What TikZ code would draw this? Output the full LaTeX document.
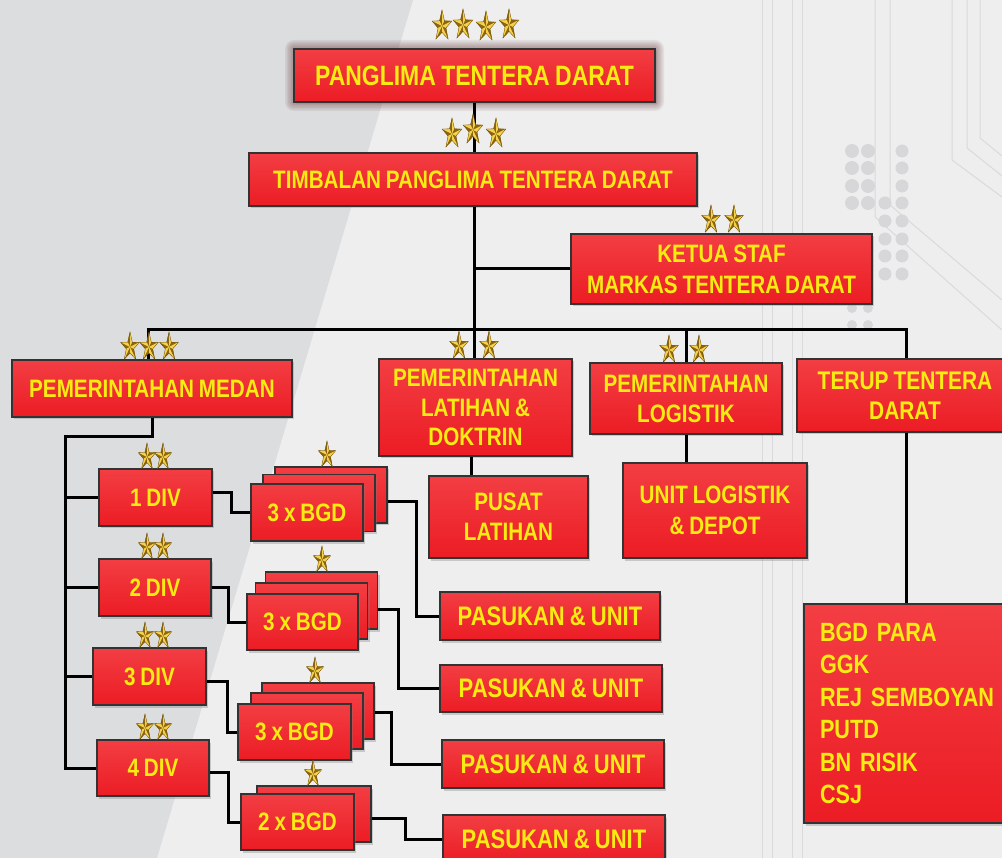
\documentclass[tikz,border=0pt]{standalone}
\usepackage{fontspec}
\newfontfamily\bxfont{Liberation Sans}[FakeStretch=0.82, WordSpace=0.85]
\usetikzlibrary{shadows,calc}
\definecolor{boxred}{HTML}{EC1C24}
\definecolor{boxredtop}{HTML}{F23E43}
\definecolor{boxtext}{HTML}{F6EC12}
\definecolor{bglight}{HTML}{EEEEEF}
\definecolor{bgdark}{HTML}{DCDDDF}
\definecolor{deco}{HTML}{DADADD}
\definecolor{dotc}{HTML}{D7D7DA}
\definecolor{goldA}{HTML}{D9A522}
\definecolor{goldB}{HTML}{8E6612}
\definecolor{goldC}{HTML}{F3D24E}
\definecolor{glowc}{HTML}{5A2424}
\pgfdeclarelayer{bg}
\pgfsetlayers{bg,main}
\tikzset{
  rbox/.style={draw=black!80, line width=1.2pt, top color=boxredtop, bottom color=boxred,
    text=boxtext, font=\bxfont\bfseries\fontsize{25.2}{30}\selectfont, align=center, inner sep=0pt,
    drop shadow={opacity=0.35, shadow xshift=2pt, shadow yshift=-2.5pt}},
  conn/.style={draw=black, line width=3pt},
  decoline/.style={draw=deco, line width=1pt},
  pics/gstar/.style={code={
    \begin{scope}[x=0.65pt, y=1pt]
      \fill[goldA] (90:#1) -- (126:0.4*#1) -- (162:#1) -- (198:0.4*#1) -- (234:#1) -- (270:0.4*#1)
        -- (306:#1) -- (342:0.4*#1) -- (18:#1) -- (54:0.4*#1) -- cycle;
      \foreach \a in {90,162,234,306,18} {
        \fill[goldB] (0,0) -- (\a:#1) -- (\a+36:0.4*#1) -- cycle;
        \fill[goldC] (0,0) -- (\a:#1) -- (\a-36:0.4*#1) -- cycle;
      }
      \draw[goldB!70!black, line width=0.3pt] (90:#1) -- (126:0.4*#1) -- (162:#1) -- (198:0.4*#1) -- (234:#1) -- (270:0.4*#1)
        -- (306:#1) -- (342:0.4*#1) -- (18:#1) -- (54:0.4*#1) -- cycle;
    \end{scope}
  }},
  pics/gstar/.default=14
}
\begin{document}
\begin{tikzpicture}[x=1pt, y=-1pt]
\useasboundingbox (0,0) rectangle (1002,858);
\begin{pgfonlayer}{bg}
  \fill[bglight] (0,0) rectangle (1002,858);
  \fill[bgdark] (0,0) -- (413,0) -- (157,858) -- (0,858) -- cycle;
  % faint circuit decoration
  \foreach \xx in {762,772,792,802} \draw[decoline] (\xx,0) -- (\xx,858);
  \draw[decoline] (875,0) -- (875,217) -- (1002,330);
  \draw[decoline] (890,0) -- (890,205) -- (1002,300);
  \draw[decoline] (952,0) -- (952,160) -- (1002,197);
  \draw[decoline] (967,0) -- (967,148) -- (1002,176);
  \draw[decoline] (980,0) -- (980,138) -- (1002,156);
  \foreach \yy in {151,168,186,203} {
    \fill[dotc] (852,\yy) circle (7);
    \fill[dotc] (868,\yy) circle (7);
  }
  \foreach \yy in {151,168,186,203,221,239,256,274} \fill[dotc] (902,\yy) circle (6.5);
  \foreach \yy in {203,221,239,256,274} \fill[dotc] (885,\yy) circle (6.5);
  \foreach \yy in {291,308,325} {
    \fill[dotc] (852,\yy) circle (5);
    \fill[dotc] (868,\yy) circle (5);
  }
  % glow of the top box
  \foreach \g in {1.5,3,...,9}
    \fill[glowc, opacity=0.08, rounded corners=\g pt] ({294-\g},{49-\g}) rectangle ({655+\g},{102+\g});
\end{pgfonlayer}

% ---- boxes ----
\node[rbox, minimum width=361, minimum height=53, font=\bxfont\bfseries\fontsize{28}{30}\selectfont] (ptd) at (474.5,75.5) {PANGLIMA TENTERA DARAT};
\node[rbox, minimum width=448, minimum height=53] (tptd) at (473,179.5) {TIMBALAN PANGLIMA TENTERA DARAT};
\node[rbox, minimum width=301, minimum height=70, font=\bxfont\bfseries\fontsize{25.2}{31}\selectfont] (ketua) at (721.5,269) {KETUA STAF\\MARKAS TENTERA DARAT};
\node[rbox, minimum width=280, minimum height=57] (medan) at (152,388.5) {PEMERINTAHAN MEDAN};
\node[rbox, minimum width=193, minimum height=97, font=\bxfont\bfseries\fontsize{25.2}{29.5}\selectfont] (latihan) at (475.5,407.5) {PEMERINTAHAN\\LATIHAN \&\\DOKTRIN};
\node[rbox, minimum width=192, minimum height=71] (logistik) at (686,398.5) {PEMERINTAHAN\\LOGISTIK};
\node[rbox, minimum width=216, minimum height=73, font=\bxfont\bfseries\fontsize{25.5}{30}\selectfont] (terup) at (905,395.5) {TERUP TENTERA\\DARAT};
\node[rbox, minimum width=159, minimum height=82] (pusat) at (508.5,517) {PUSAT\\LATIHAN};
\node[rbox, minimum width=184, minimum height=95, font=\bxfont\bfseries\fontsize{25.2}{31}\selectfont] (unit) at (715,510.5) {UNIT LOGISTIK\\\& DEPOT};

\node[rbox, minimum width=113, minimum height=57] (div1) at (155.5,497.5) {1 DIV};
\node[rbox, minimum width=112, minimum height=57] (div2) at (155,587.5) {2 DIV};
\node[rbox, minimum width=113, minimum height=57] (div3) at (149.5,676.5) {3 DIV};
\node[rbox, minimum width=112, minimum height=56] (div4) at (153,768) {4 DIV};

\node[rbox, minimum width=112, minimum height=56] (bgd1c) at (331,495) {};
\node[rbox, minimum width=112, minimum height=57] (bgd1b) at (319,503) {};
\node[rbox, minimum width=112, minimum height=57] (bgd1) at (307,512.5) {3 x BGD};

\node[rbox, minimum width=112, minimum height=57] (bgd2c) at (321.5,600.5) {};
\node[rbox, minimum width=112, minimum height=56] (bgd2b) at (311.5,611) {};
\node[rbox, minimum width=111, minimum height=56] (bgd2) at (302.5,622) {3 x BGD};

\node[rbox, minimum width=112, minimum height=56] (bgd3c) at (318,711) {};
\node[rbox, minimum width=112, minimum height=56] (bgd3b) at (307,721) {};
\node[rbox, minimum width=113, minimum height=56] (bgd3) at (294.5,732) {3 x BGD};

\node[rbox, minimum width=114, minimum height=56] (bgd4c) at (314,814) {};
\node[rbox, minimum width=113, minimum height=56] (bgd4) at (297.5,822) {2 x BGD};

\node[rbox, minimum width=220, minimum height=48, font=\bxfont\bfseries\fontsize{26.8}{30}\selectfont] (pas1) at (550,616) {PASUKAN \& UNIT};
\node[rbox, minimum width=222, minimum height=47, font=\bxfont\bfseries\fontsize{26.8}{30}\selectfont] (pas2) at (551,688.5) {PASUKAN \& UNIT};
\node[rbox, minimum width=222, minimum height=48, font=\bxfont\bfseries\fontsize{26.8}{30}\selectfont] (pas3) at (553,764) {PASUKAN \& UNIT};
\node[rbox, minimum width=222, minimum height=48, font=\bxfont\bfseries\fontsize{26.8}{30}\selectfont] (pas4) at (554,839) {PASUKAN \& UNIT};

\node[rbox, minimum height=219, text width=178, inner xsep=16, align=left, font=\bxfont\bfseries\fontsize{26.4}{32.4}\selectfont] (big) at (909,713.5)
  {BGD PARA\\GGK\\REJ SEMBOYAN\\PUTD\\BN RISIK\\CSJ};

% ---- connectors ----
\coordinate (trunk) at (474,330);
\coordinate (busL) at (148,330);
\coordinate (busR) at (906,330);
\coordinate (spTop) at (65,437);

\draw[conn] (ptd.south) -- (ptd.south |- tptd.north);
\draw[conn] (tptd.south -| trunk) -- (trunk |- latihan.north);
\draw[conn] (ketua.west) -- (ketua.west -| trunk);
\draw[conn] (busL |- medan.north) -- (busL) -- (busR) -- (busR |- terup.north);
\draw[conn] (logistik.north |- busL) -- (logistik.north);
\draw[conn] (terup.south -| busR) -- (busR |- big.north);
\draw[conn] ([xshift=-4pt]latihan.south) -- ([xshift=-4pt]latihan.south |- pusat.north);
\draw[conn] (logistik.south) -- (logistik.south |- unit.north);

\draw[conn] (medan.south) |- (spTop) -- (spTop |- div4.west) -- (div4.west);
\draw[conn] (spTop |- div1.west) -- (div1.west);
\draw[conn] (spTop |- div2.west) -- (div2.west);
\draw[conn] (spTop |- div3.west) -- (div3.west);

\draw[conn] ([yshift=5pt]div1.east) -- ++(19,0) |- (bgd1.west);
\draw[conn] (div2.east) -- ++(17,0) |- (bgd2.west);
\draw[conn] ([yshift=-5pt]div3.east) -- ++(21,0) |- (bgd3.west);
\draw[conn] ([yshift=-4pt]div4.east) -- ++(19,0) |- (bgd4.west);

\draw[conn] ([yshift=-7pt]bgd1c.east) -- ++(29,0) |- (pas1.west);
\draw[conn] ([yshift=-9pt]bgd2c.east) -- ++(20,0) |- (pas2.west);
\draw[conn] ([yshift=-1pt]bgd3c.east) -- ++(17,0) |- (pas3.west);
\draw[conn] ([yshift=-4pt]bgd4c.east) -- ++(34,0) |- (pas4.west);

% ---- stars ----
\foreach \sx/\sy in {442/26, 463/25, 486/27, 509/25} \pic at (\sx,\sy) {gstar=16};
\foreach \sx in {452,496} \pic at (\sx,134) {gstar=16};
\pic at (473,130) {gstar=16};
\foreach \sx in {711,734} \pic at (\sx,220) {gstar=15};
\foreach \sx in {130,149,169} \pic at (\sx,347) {gstar=15};
\foreach \sx in {459,489} \pic at (\sx,346) {gstar=15};
\foreach \sx in {669,699} \pic at (\sx,350) {gstar=15};
\foreach \sx in {147,163} \pic at (\sx,457) {gstar=14};
\foreach \sx in {147,163} \pic at (\sx,547) {gstar=14};
\foreach \sx in {145,163} \pic at (\sx,636) {gstar=14};
\foreach \sx in {145,163} \pic at (\sx,728) {gstar=14};
\pic at (327,455) {gstar=14};
\pic at (322,560) {gstar=14};
\pic at (315,671) {gstar=14};
\pic at (313,774) {gstar=14};
\end{tikzpicture}
\end{document}
